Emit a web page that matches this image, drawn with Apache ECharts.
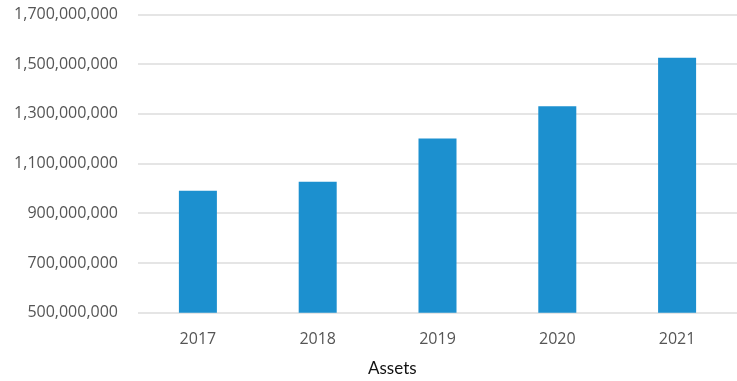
<!DOCTYPE html>
<html>
<head>
<meta charset="utf-8">
<script src="https://cdn.jsdelivr.net/npm/echarts@6/dist/echarts.min.js"></script>
<style>
  html, body { margin: 0; padding: 0; background: #fff; }
  #chart { width: 737px; height: 381px; }
</style>
</head>
<body>
<div id="chart"></div>
<script>
// Yearly asset totals
const years = ['2017', '2018', '2019', '2020', '2021'];
const assets = [990000000, 1027000000, 1201000000, 1330000000, 1525000000];
const axisMin = 500000000;
const axisMax = 1700000000;
const axisStep = 200000000;

const chart = echarts.init(document.getElementById('chart'), null, { renderer: 'canvas' });

chart.setOption({
  animation: false,
  backgroundColor: '#ffffff',
  grid: { left: 138, right: -6, top: 14.3, bottom: 68.3, containLabel: false },
  title: {
    text: 'Assets',
    left: 363,
    top: 355,
    textStyle: { fontFamily: 'Lato', fontSize: 17, fontWeight: 'normal', color: '#111111' }
  },
  xAxis: {
    type: 'category',
    data: years,
    axisLine: { show: false },
    axisTick: { show: false },
    axisLabel: { margin: 19, fontFamily: 'Open Sans', fontSize: 16, color: '#555555' }
  },
  yAxis: {
    type: 'value',
    min: axisMin,
    max: axisMax,
    interval: axisStep,
    axisLine: { show: false },
    axisTick: { show: false },
    splitLine: { lineStyle: { color: '#dcdcdc', width: 1.5 } },
    axisLabel: {
      margin: 20,
      fontFamily: 'Open Sans',
      fontSize: 16,
      color: '#555555',
      formatter: v => v.toLocaleString('en-US')
    }
  },
  series: [{
    type: 'bar',
    data: assets,
    barWidth: 38,
    itemStyle: { color: '#1c90cf' }
  }]
});
</script>
</body>
</html>
